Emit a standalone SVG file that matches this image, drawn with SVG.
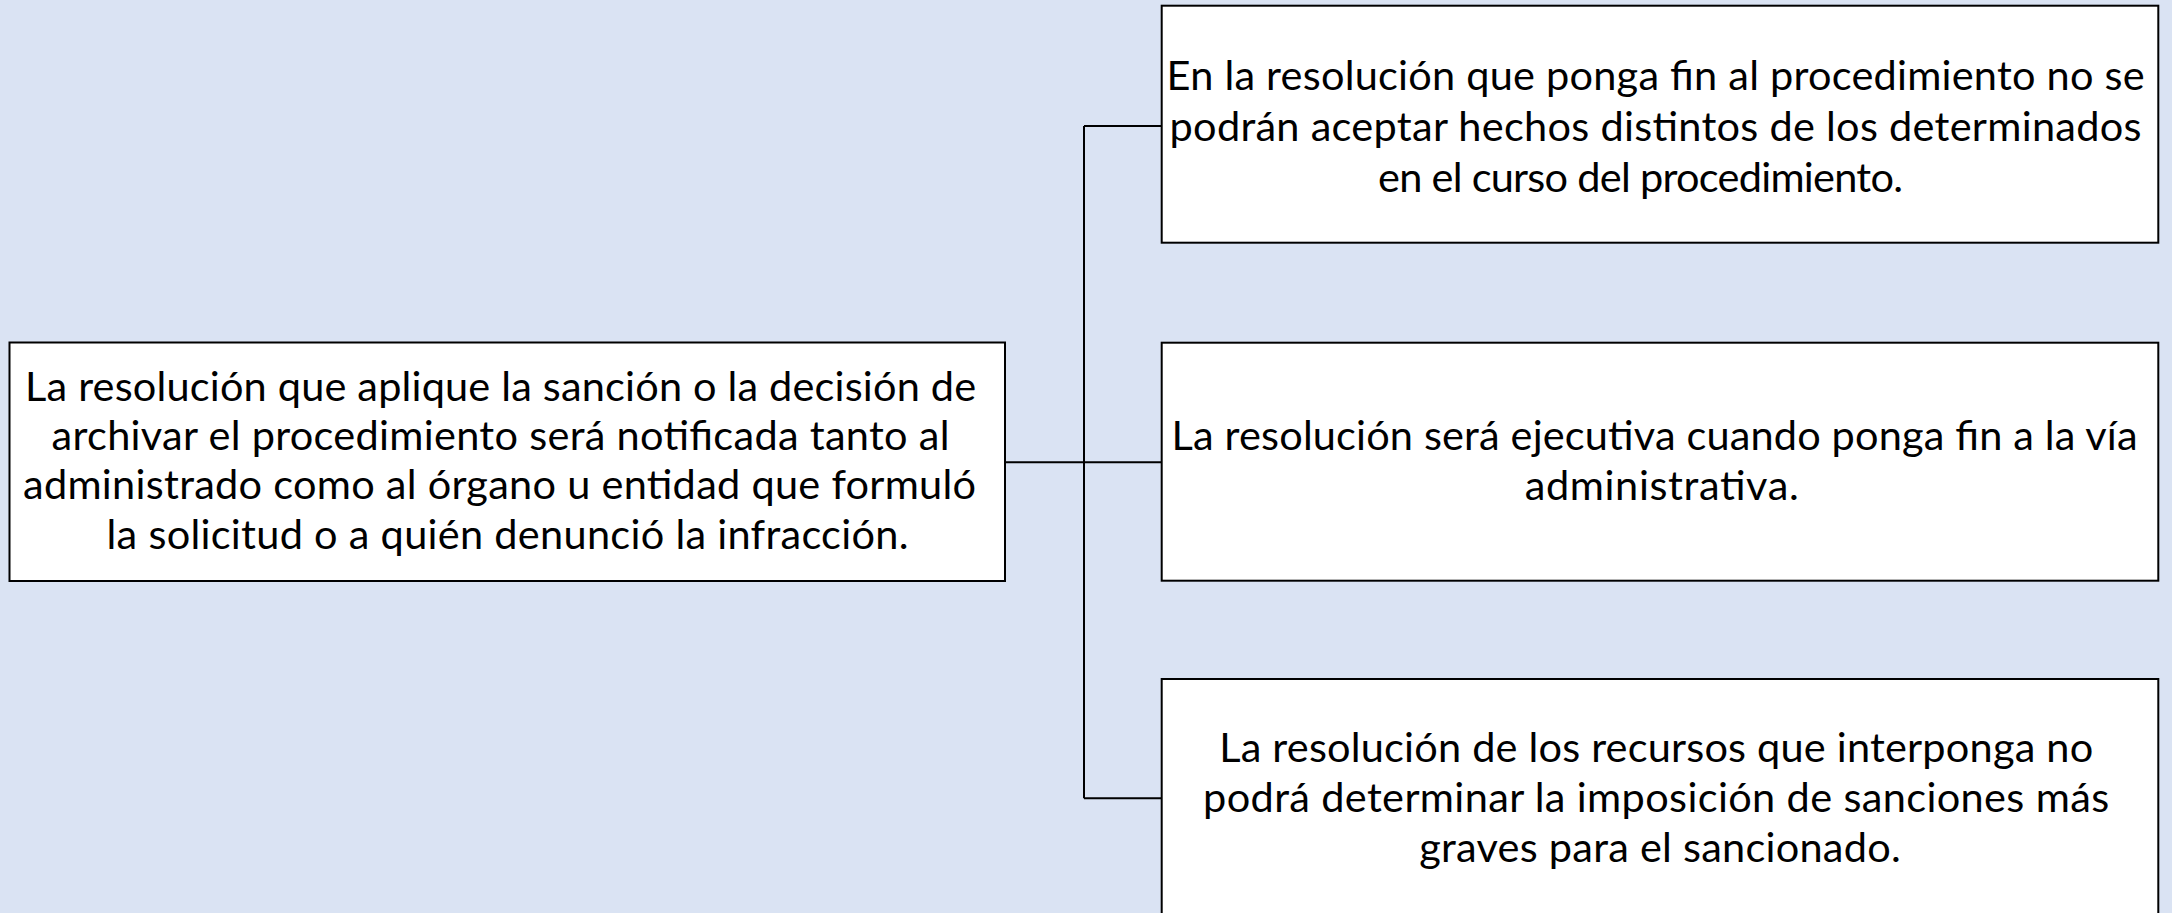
<svg xmlns="http://www.w3.org/2000/svg" width="2172" height="913" viewBox="0 0 2172 913">
<style>
.box{fill:#ffffff;stroke:#000000;stroke-width:2}
.t{font-family:Lato,"Open Sans","Liberation Sans",sans-serif;font-size:41.5px;fill:#000000;text-anchor:middle}
.c{fill:none;stroke:#000000;stroke-width:2}
</style>
<rect x="0" y="0" width="2172" height="913" fill="#DAE3F3"/>
<g id="connectors">
<path class="c" d="M1005,462.3 H1084 M1084,126 V798.3 M1084,126 H1161.7 M1084,462.3 H1161.7 M1084,798.3 H1161.7"/>
</g>
<g id="node-root">
<rect class="box" x="9.5" y="342.5" width="995.5" height="238.5"/>
<text class="t" lengthAdjust="spacingAndGlyphs">
<tspan x="506" y="401" textLength="951">La resolución que aplique la sanción o la decisión de</tspan>
<tspan x="506" y="450" textLength="898">archivar el procedimiento será notificada tanto al</tspan>
<tspan x="505" y="499" textLength="953">administrado como al órgano u entidad que formuló</tspan>
<tspan x="507.5" y="549" textLength="802">la solicitud o a quién denunció la infracción.</tspan>
</text>
</g>
<g id="node-1">
<rect class="box" x="1161.7" y="5.7" width="996.6" height="237"/>
<text class="t" lengthAdjust="spacingAndGlyphs">
<tspan x="1661" y="90" textLength="978">En la resolución que ponga fin al procedimiento no se</tspan>
<tspan x="1661" y="141" textLength="972">podrán aceptar hechos distintos de los determinados</tspan>
<tspan x="1640.5" y="192" textLength="525">en el curso del procedimiento.</tspan>
</text>
</g>
<g id="node-2">
<rect class="box" x="1161.7" y="342.7" width="996.6" height="238"/>
<text class="t" lengthAdjust="spacingAndGlyphs">
<tspan x="1660" y="450" textLength="966">La resolución será ejecutiva cuando ponga fin a la vía</tspan>
<tspan x="1661.7" y="500" textLength="274">administrativa.</tspan>
</text>
</g>
<g id="node-3">
<rect class="box" x="1161.7" y="679" width="996.6" height="240"/>
<text class="t" lengthAdjust="spacingAndGlyphs">
<tspan x="1661.6" y="761.7" textLength="874">La resolución de los recursos que interponga no</tspan>
<tspan x="1661.6" y="811.7" textLength="906">podrá determinar la imposición de sanciones más</tspan>
<tspan x="1660" y="861.7" textLength="481.5">graves para el sancionado.</tspan>
</text>
</g>
</svg>
